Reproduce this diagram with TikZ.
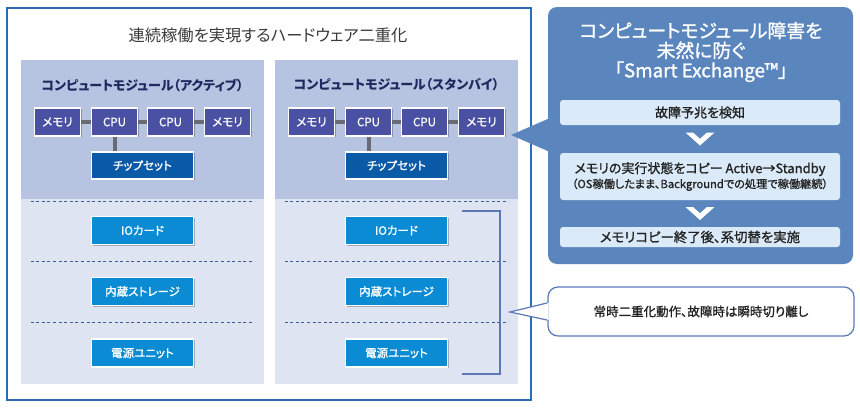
\documentclass[tikz,border=0pt]{standalone}
\usepackage{fontspec}
\setmainfont{Noto Sans CJK JP}[RawFeature=+palt]
\newfontfamily\jpmed{Noto Sans CJK JP}[RawFeature=+palt, FakeBold=1.2]
\usetikzlibrary{shadows,calc}
\definecolor{outerc}{HTML}{2D6CB4}
\definecolor{panelup}{HTML}{B6C4E2}
\definecolor{paneldn}{HTML}{DEE4F1}
\definecolor{memcol}{HTML}{4B51A2}
\definecolor{chipcol}{HTML}{0B5AA8}
\definecolor{iocol}{HTML}{0B8BD4}
\definecolor{buscol}{HTML}{686B72}
\definecolor{sepcol}{HTML}{3C5E96}
\definecolor{headcol}{HTML}{1E2A5E}
\definecolor{titlecol}{HTML}{3A3A3A}
\definecolor{bigcol}{HTML}{5B86BD}
\definecolor{stepcol}{HTML}{DBEAF8}
\definecolor{brkcol}{HTML}{5A78B8}
\definecolor{txtdark}{HTML}{222222}
\tikzset{
  hw/.style={draw=white, line width=1.3pt, text=white, inner sep=0pt,
    font=\fontsize{11.5}{13}\selectfont\jpmed,
    drop shadow={shadow xshift=1.2pt, shadow yshift=-1.2pt, opacity=0.25, fill=black}},
  memc/.style={hw, fill=memcol, minimum width=46pt, minimum height=28pt},
  chipc/.style={hw, fill=chipcol, minimum width=102pt, minimum height=27pt},
  ioc/.style={hw, fill=iocol, minimum width=102pt, minimum height=28pt},
  bus/.style={draw=buscol, line width=4pt},
  sepline/.style={draw=sepcol, line width=0.9pt, dash pattern=on 3pt off 2.6pt},
  headc/.style={text=headcol, font=\fontsize{13}{15}\selectfont\bfseries, inner sep=0pt},
  stepbox/.style={fill=stepcol, rounded corners=3pt, minimum width=280pt, inner sep=0pt,
    text=txtdark, align=center},
  chevron/.pic={\fill[white] (-14.5,-6.5) -- (0,6.5) -- (14.5,-6.5) -- (7,-6.5) -- (0,-0.2) -- (-7,-6.5) -- cycle;}
}
\begin{document}
\begin{tikzpicture}[x=1pt,y=-1pt]
\useasboundingbox (0,0) rectangle (860,415);
% outer frame
\draw[outerc, line width=2pt] (7,8) rectangle (531,400);
\node[text=titlecol, font=\fontsize{16.3}{18}\selectfont, inner sep=0pt] (title) at (268,35) {連続稼働を実現するハードウェア二重化};
\foreach \p/\cx/\lab in {L/142.5/アクティブ, R/396.5/スタンバイ}{
  \fill[panelup] (\cx-121.5,60) rectangle (\cx+121.5,199);
  \fill[paneldn] (\cx-121.5,199) rectangle (\cx+121.5,384);
  \node[headc] (\p-h) at (\cx,85) {コンピュートモジュール（\lab）};
  \node[memc] (\p-m1) at (\cx-85,122) {メモリ};
  \node[memc] (\p-c1) at (\cx-28,122) {CPU};
  \node[memc] (\p-c2) at (\cx+28,122) {CPU};
  \node[memc] (\p-m2) at (\cx+85,122) {メモリ};
  \node[chipc] (\p-cs) at (\cx,165.5) {チップセット};
  \draw[bus] (\p-m1) -- (\p-c1);
  \draw[bus] (\p-c1) -- (\p-c2);
  \draw[bus] (\p-c2) -- (\p-m2);
  \draw[bus] (\p-c1.south) -- (\p-c1.south |- \p-cs.north);
  \foreach \yy in {201,261,322} \draw[sepline] (\cx-112,\yy) -- (\cx+112,\yy);
  \node[ioc] (\p-io) at (\cx,230.5) {IOカード};
  \node[ioc] (\p-st) at (\cx,291.5) {内蔵ストレージ};
  \node[ioc] (\p-pw) at (\cx,353) {電源ユニット};
}
% bracket
\draw[brkcol, line width=1.1pt] (462,211) -- (500,211) -- (500,374) -- (462,374);
% big callout
\node[fill=bigcol, rounded corners=9pt, minimum width=305pt, minimum height=257pt, inner sep=0pt] (sx) at (700.5,135.5) {};
\fill[bigcol] (550,118) -- (511,135) -- (550,152) -- cycle;
\node[text=white, align=center, font=\fontsize{18.8}{19.8}\selectfont\jpmed, inner sep=0pt] (sxt) at (701,52) {コンピュートモジュール障害を\\未然に防ぐ\\「Smart Exchange™」};
\node[stepbox, minimum height=25pt, font=\fontsize{13}{14}\selectfont\jpmed] (s1) at (700,112.5) {故障予兆を検知};
\node[stepbox, minimum height=47pt, font=\fontsize{13}{16}\selectfont\jpmed] (s2) at (700,176.5) {メモリの実行状態をコピー Active→Standby\\[-1pt]{\fontsize{11.2}{12}\selectfont（OS稼働したまま、Backgroundでの処理で稼働継続）}};
\node[stepbox, minimum height=20pt, font=\fontsize{13.4}{14}\selectfont\jpmed] (s3) at (700,237) {メモリコピー終了後、系切替を実施};
\pic at ($(s1.south)!0.5!(s2.north)$) {chevron};
\pic at ($(s2.south)!0.5!(s3.north)$) {chevron};
% small callout
\node[draw=brkcol, line width=1.2pt, fill=white, rounded corners=10pt, minimum width=306pt, minimum height=49pt, inner sep=0pt, text=txtdark, font=\fontsize{12.5}{14}\selectfont\jpmed] (cb) at (701,311.5) {常時二重化動作、故障時は瞬時切り離し};
\fill[white] (548.6,303) -- (510,312) -- (548.6,320) -- cycle;
\draw[brkcol, line width=1.2pt, line join=miter] (547,303) -- (510,312) -- (547,320);
\end{tikzpicture}
\end{document}
